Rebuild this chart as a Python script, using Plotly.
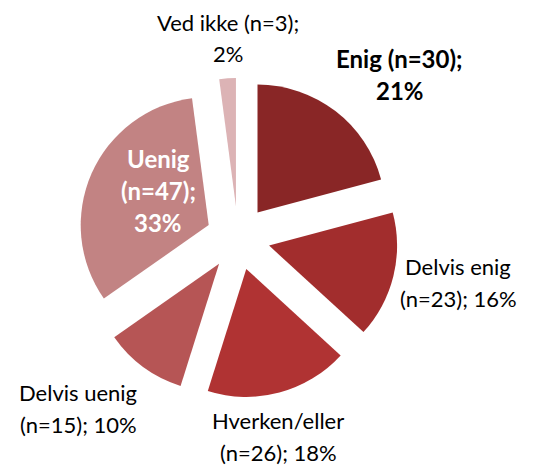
import plotly.graph_objects as go

categories = ["Enig", "Delvis enig", "Hverken/eller", "Delvis uenig", "Uenig", "Ved ikke"]
counts = [30, 23, 26, 15, 47, 3]
percents = ["21%", "16%", "18%", "10%", "33%", "2%"]
colors = ["#892626", "#a22d2d", "#b03333", "#b65555", "#c28383", "#dcb3b5"]

W, H = 539, 465
cx, cy = 238, 238
half = 160
pull = 0.25

fig = go.Figure(go.Pie(
    labels=categories,
    values=counts,
    sort=False,
    direction="clockwise",
    rotation=0,
    pull=[pull] * len(counts),
    marker=dict(colors=colors, line=dict(width=0)),
    textinfo="none",
    hoverinfo="label+value+percent",
    showlegend=False,
    domain=dict(x=[(cx - half) / W, (cx + half) / W],
                y=[(H - cy - half) / H, (H - cy + half) / H]),
))

# label layout: (x center px, y center px of first line, bold, color, number of lines)
label_pos = {
    "Enig": (400, 58, True, "#000000", 2),
    "Delvis enig": (458, 266, False, "#000000", 2),
    "Hverken/eller": (278, 420, False, "#000000", 2),
    "Delvis uenig": (78, 392, False, "#000000", 2),
    "Uenig": (158, 158, True, "#ffffff", 3),
    "Ved ikke": (228, 22, False, "#000000", 2),
}
lh = 32
for cat, n, pct in zip(categories, counts, percents):
    x, y, bold, col, nl = label_pos[cat]
    if nl == 3:
        lines = [cat, f"(n={n});", pct]
    elif cat in ("Delvis enig", "Hverken/eller", "Delvis uenig"):
        lines = [cat, f"(n={n}); {pct}"]
    else:
        lines = [f"{cat} (n={n});", pct]
    for i, t in enumerate(lines):
        txt = f"<b>{t}</b>" if bold else t
        fig.add_annotation(
            x=x / W, y=1 - (y + i * lh) / H, xref="paper", yref="paper",
            text=txt, showarrow=False, xanchor="center", yanchor="middle",
            font=dict(family="Lato", size=24 if bold else 22, color=col),
        )

fig.update_layout(
    width=W, height=H,
    margin=dict(l=0, r=0, t=0, b=0),
    paper_bgcolor="white", plot_bgcolor="white",
)
fig.write_html("out.html", config={"displayModeBar": False},
               post_script="document.body.style.margin='0';")
